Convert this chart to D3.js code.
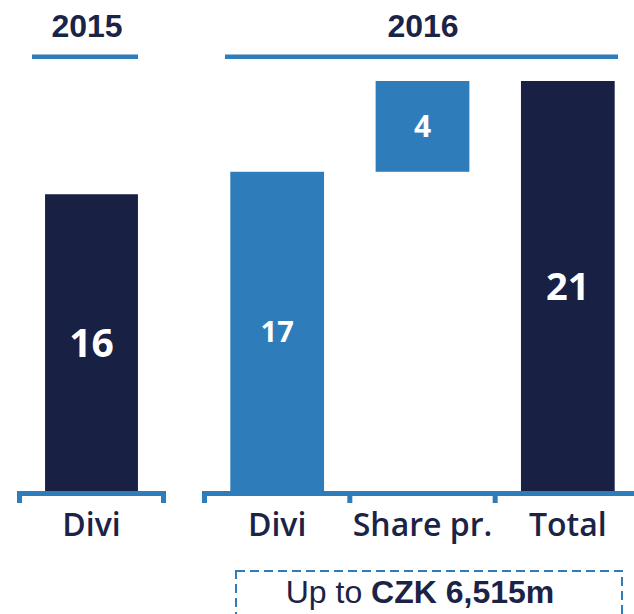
<!DOCTYPE html>
<html>
<head>
<meta charset="utf-8">
<script src="https://cdn.jsdelivr.net/npm/d3@7"></script>
<style>
    html, body { margin: 0; padding: 0; background: #fff; }
    svg { display: block; }
</style>
</head>
<body>
<svg id="chart"></svg>
<script>
// data
const years = ["2015", "2016"]
const categories2015 = ["Divi"]
const categories2016 = ["Divi", "Share pr.", "Total"]
// bar start / end per category (2015 Divi, 2016 Divi, Share pr., Total)
const barStart = [0, 0, 16.35, 0]
const barEnd = [15.2, 16.35, 21, 21]
const barLabels = ["16", "17", "4", "21"]
const barKind = ["dark", "light", "light", "dark"]
const footerPrefix = "Up to "
const footerBold = "CZK 6,515m"

const NAVY = "#182043"
const BLUE = "#2e7dba"
const TEXT = "#1b2346"
const labelSizes = [39, 29, 30, 38]

class DiviChart {
    constructor() {
        this.width = 634
        this.height = 614
        this.svg = d3.select("#chart")
            .attr("width", this.width)
            .attr("height", this.height)

        this.y = d3.scaleLinear().domain([0, 21]).range([491, 81])
        this.x2015 = d3.scaleBand().domain(categories2015).range([19.5, 163.5])
        this.x2016 = d3.scaleBand().domain(categories2016).range([204.5, 640.5])

        this.rows = []
        categories2015.forEach((c) => this.rows.push({cat: c, scale: this.x2015}))
        categories2016.forEach((c) => this.rows.push({cat: c, scale: this.x2016}))
        this.rows.forEach((r, i) => {
            r.start = barStart[i]
            r.end = barEnd[i]
            r.label = barLabels[i]
            r.kind = barKind[i]
            r.size = labelSizes[i]
        })

        this.drawHeaders()
        this.drawBars()
        this.drawBrackets()
        this.drawFooter()
    }
    drawHeaders() {
        let spans = [[32, 138], [225, 618]]
        let g = this.svg.append("g").attr("class", "headers")
        years.forEach((yr, i) => {
            let [a, b] = spans[i]
            g.append("text")
                .attr("x", i == 0 ? 87 : 423)
                .attr("y", 37)
                .attr("text-anchor", "middle")
                .attr("font-family", "Liberation Sans, Arial, sans-serif")
                .attr("font-weight", "bold")
                .attr("font-size", 32)
                .attr("fill", TEXT)
                .text(yr)
            g.append("rect")
                .attr("x", a)
                .attr("y", 54.5)
                .attr("width", b - a)
                .attr("height", 4.5)
                .attr("fill", BLUE)
        })
    }
    drawBars() {
        let g = this.svg.append("g").attr("class", "bars")
        let y = this.y
        let bw = (r) => r.scale.bandwidth() * 0.645
        let bx = (r) => r.scale(r.cat) + (r.scale.bandwidth() - bw(r)) / 2

        g.selectAll("rect")
            .data(this.rows)
            .join("rect")
            .attr("x", (r) => bx(r))
            .attr("y", (r) => y(r.end))
            .attr("width", (r) => bw(r))
            .attr("height", (r) => y(r.start) - y(r.end))
            .attr("fill", (r) => r.kind == "dark" ? NAVY : BLUE)

        g.selectAll("text")
            .data(this.rows)
            .join("text")
            .attr("x", (r) => bx(r) + bw(r) / 2)
            .attr("y", (r) => (y(r.start) + y(r.end)) / 2 + r.size * 0.36)
            .attr("text-anchor", "middle")
            .attr("font-family", "Open Sans, sans-serif")
            .attr("font-weight", 700)
            .attr("font-size", (r) => r.size)
            .attr("fill", "#fff")
            .text((r) => r.label)
    }
    drawBrackets() {
        let g = this.svg.append("g").attr("class", "brackets")
        let yLine = 493.5
        let yTick = 503
        ;[this.x2015, this.x2016].forEach((sc) => {
            let [a, b] = sc.range()
            let p = d3.path()
            p.moveTo(a, yTick)
            p.lineTo(a, yLine)
            p.lineTo(b, yLine)
            p.lineTo(b, yTick)
            sc.domain().slice(1).forEach((c) => {
                p.moveTo(sc(c), yLine)
                p.lineTo(sc(c), yTick)
            })
            g.append("path")
                .attr("d", p.toString())
                .attr("fill", "none")
                .attr("stroke", BLUE)
                .attr("stroke-width", 5)
        })

        let labels = this.svg.append("g").attr("class", "cat-labels")
        labels.selectAll("text")
            .data(this.rows)
            .join("text")
            .attr("x", (r) => r.scale(r.cat) + r.scale.bandwidth() / 2)
            .attr("y", 536)
            .attr("text-anchor", "middle")
            .attr("font-family", "Open Sans, sans-serif")
            .attr("font-weight", 600)
            .attr("font-size", 32)
            .attr("fill", TEXT)
            .text((r) => r.cat)
    }
    drawFooter() {
        let g = this.svg.append("g").attr("class", "footer")
        g.append("rect")
            .attr("x", 236)
            .attr("y", 571)
            .attr("width", 386)
            .attr("height", 80)
            .attr("fill", "none")
            .attr("stroke", BLUE)
            .attr("stroke-width", 2)
            .attr("stroke-dasharray", "9 5")
        let t = g.append("text")
            .attr("x", 420)
            .attr("y", 603)
            .attr("text-anchor", "middle")
            .attr("font-family", "Liberation Sans, Arial, sans-serif")
            .attr("font-size", 32)
            .attr("fill", TEXT)
        t.append("tspan").text(footerPrefix)
        t.append("tspan").attr("font-weight", "bold").text(footerBold)
    }
}

new DiviChart()
</script>
</body>
</html>
